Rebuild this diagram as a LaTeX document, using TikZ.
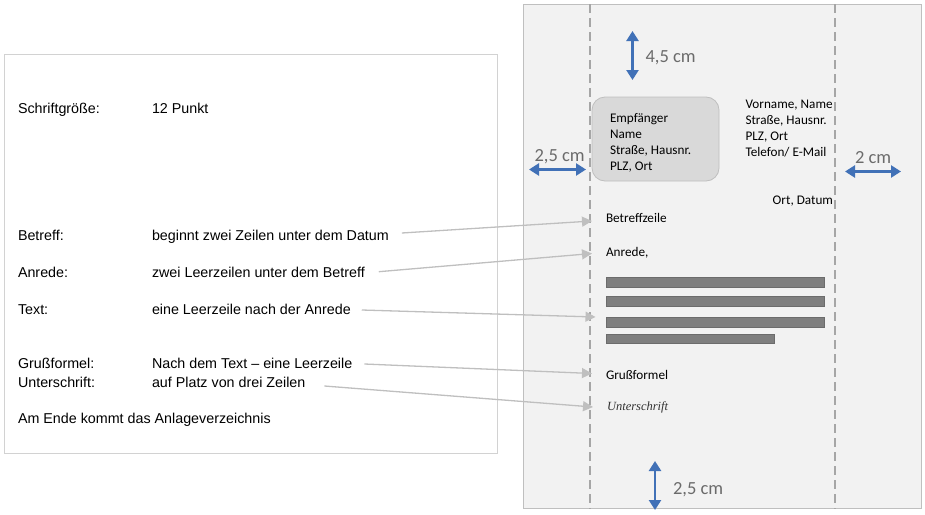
\documentclass[tikz,border=0pt]{standalone}
\usepackage{fontspec}
\setmainfont{Liberation Sans}
\newfontfamily\calibri{Carlito}
\newfontfamily\handfont{Liberation Serif}
\usetikzlibrary{arrows.meta}
\definecolor{pagegray}{HTML}{F2F2F2}
\definecolor{framegray}{HTML}{BFBFBF}
\definecolor{dashgray}{HTML}{A6A6A6}
\definecolor{boxgray}{HTML}{D9D9D9}
\definecolor{bargray}{HTML}{7F7F7F}
\definecolor{dimblue}{HTML}{4171B7}
\definecolor{dimtext}{HTML}{6B6B6B}

\begin{document}
\begin{tikzpicture}[x=1pt,y=-1pt]
	\tikzstyle{every node}=[inner sep=0pt, outer sep=0pt]
	\tikzstyle{desc}=[anchor=base west, font=\fontsize{14.3}{17}\selectfont]
	\tikzstyle{letter}=[anchor=base west, font=\calibri\fontsize{13.2}{16}\selectfont]
	\tikzstyle{hint}=[draw=framegray, line width=1.3pt, -{Triangle[length=10pt,width=10pt]}]
	\tikzstyle{dim}=[draw=dimblue, line width=2.4pt, {Triangle[length=10pt,width=12pt]}-{Triangle[length=10pt,width=12pt]}]
	\tikzstyle{dimlabel}=[anchor=base west, text=dimtext, font=\calibri\fontsize{18.5}{20}\selectfont]
	\tikzstyle{textbar}=[fill=bargray, draw=bargray!85!black, line width=0.6pt]
	
	\useasboundingbox (0,0) rectangle (925,514);
	
	% left sheet with the rules
	\draw [draw=framegray!70, line width=0.8pt] (4.5,54.5) rectangle (497,453);
	\node [desc] (sizekey) at (18,113) {Schriftgröße:};
	\node [desc] (sizeval) at (152,113) {12 Punkt};
	\node [desc] (betreffkey) at (18,240) {Betreff:};
	\node [desc] (betreffval) at (152,240) {beginnt zwei Zeilen unter dem Datum};
	\node [desc] (anredekey) at (18,277) {Anrede:};
	\node [desc] (anredeval) at (152,277) {zwei Leerzeilen unter dem Betreff};
	\node [desc] (textkey) at (18,314) {Text:};
	\node [desc] (textval) at (152,314) {eine Leerzeile nach der Anrede};
	\node [desc] (grusskey) at (18,368) {Grußformel:};
	\node [desc] (grussval) at (152,368) {Nach dem Text -- eine Leerzeile};
	\node [desc] (signkey) at (18,387) {Unterschrift:};
	\node [desc] (signval) at (152,387) {auf Platz von drei Zeilen};
	\node [desc] (anlage) at (18,423) {Am Ende kommt das Anlageverzeichnis};
	
	% right sheet: the letter page
	\draw [fill=pagegray, draw=framegray, line width=0.9pt] (523,4) rectangle (921.5,508.5);
	\draw [dashgray, line width=1.2pt, dash pattern=on 9pt off 5pt] (590,4) -- (590,508.5);
	\draw [dashgray, line width=1.2pt, dash pattern=on 9pt off 5pt] (835,4) -- (835,508.5);
	
	\draw [fill=boxgray, draw=framegray, line width=0.8pt, rounded corners=13pt] (592,97) rectangle (719,181);
	\node [letter] (empf1) at (610,122) {Empfänger};
	\node [letter] (empf2) at (610,138) {Name};
	\node [letter] (empf3) at (610,154) {Straße, Hausnr.};
	\node [letter] (empf4) at (610,170) {PLZ, Ort};
	
	\node [letter] (abs1) at (745.5,108) {Vorname, Name};
	\node [letter] (abs2) at (745.5,124) {Straße, Hausnr.};
	\node [letter] (abs3) at (745.5,140) {PLZ, Ort};
	\node [letter] (abs4) at (745.5,156) {Telefon/ E-Mail};
	\node [letter, anchor=base east] (datum) at (833,204) {Ort, Datum};
	
	\node [letter] (betreffline) at (606,222) {Betreffzeile};
	\node [letter] (anredeline) at (606,256) {Anrede,};
	\draw [textbar] (606,277.5) rectangle (824.5,287.5);
	\draw [textbar] (606,296.5) rectangle (824.5,306.5);
	\draw [textbar] (606,317.5) rectangle (824.5,327);
	\draw [textbar] (606,334) rectangle (774,343.5);
	\node [letter] (grussline) at (606,379) {Grußformel};
	\node [anchor=base west, text=black!80, font=\handfont\itshape\fontsize{12.5}{14}\selectfont] (signline) at (607,410) {Unterschrift};
	
	% pointers from the rules to the page
	\coordinate (betreffin) at (592,221);
	\coordinate (anredein) at (592,253.5);
	\coordinate (textin) at (595.5,317);
	\coordinate (grussin) at (592,373.5);
	\coordinate (signin) at (593,407);
	\draw [hint] ([xshift=13pt,yshift=7pt]betreffval.base east) -- (betreffin);
	\draw [hint] ([xshift=14pt,yshift=5.3pt]anredeval.base east) -- (anredein);
	\draw [hint] ([xshift=11pt,yshift=4pt]textval.base east) -- (textin);
	\draw [hint] ([xshift=12pt,yshift=4pt]grussval.base east) -- (grussin);
	\draw [hint] ([xshift=19pt,yshift=1pt]signval.base east) -- (signin);
	
	% margins
	\coordinate (topa) at (632.5,31);
	\coordinate (topb) at (632.5,80);
	\draw [dim] (topa) -- (topb);
	\node [dimlabel] (toplabel) at (645.5,62) {4,5 cm};
	
	\coordinate (lefta) at (529,169.5);
	\coordinate (leftb) at (586,169.5);
	\draw [dim] (lefta) -- (leftb);
	\node [dimlabel] (leftlabel) at (534.5,161) {2,5 cm};
	
	\coordinate (righta) at (845,171.5);
	\coordinate (rightb) at (901,171.5);
	\draw [dim] (righta) -- (rightb);
	\node [dimlabel] (rightlabel) at (855,163) {2 cm};
	
	\coordinate (bottoma) at (655,461);
	\coordinate (bottomb) at (655,510);
	\draw [dim] (bottoma) -- (bottomb);
	\node [dimlabel] (bottomlabel) at (673,494) {2,5 cm};
\end{tikzpicture}
\end{document}
